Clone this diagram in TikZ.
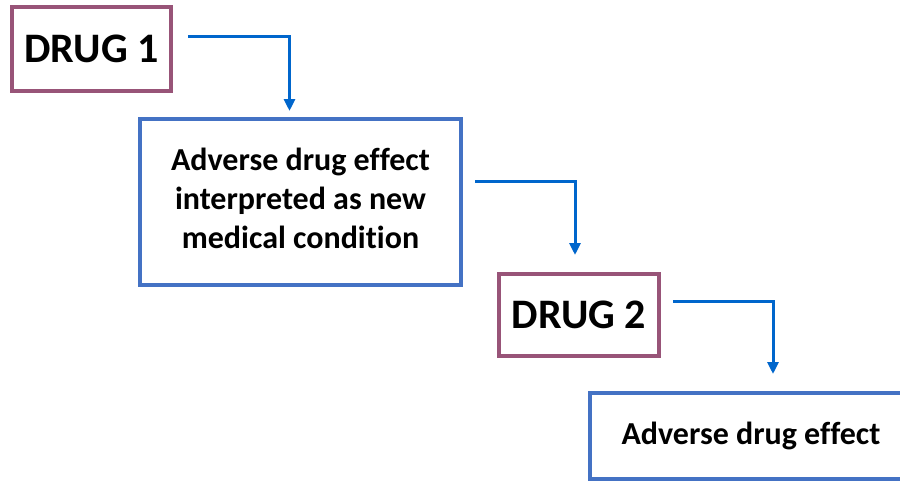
\documentclass[tikz,border=0pt]{standalone}
\usepackage{fontspec}
\setmainfont{Carlito}[Ligatures=NoCommon]
\usepackage{xcolor}
\usepackage{tikz}
\usetikzlibrary{arrows.meta, positioning}
\definecolor{drugline}{HTML}{985478}
\definecolor{effectline}{HTML}{4472C4}
\definecolor{flow}{HTML}{0066CC}

\begin{document}
\begin{tikzpicture}[x=1pt, y=-1pt,
      drugbox/.style={draw=drugline, line width=4pt, fill=white, inner sep=0pt,
        font=\bfseries\fontsize{42}{50}\selectfont},
      effectbox/.style={draw=effectline, line width=4pt, fill=white, inner sep=0pt,
        align=center, font=\bfseries\fontsize{32}{39}\selectfont},
      flowarrow/.style={draw=flow, line width=3pt, -{Triangle[length=12pt, width=11pt]}}]
    \clip (0,0) rectangle (900,482);
    \fill[white] (0,0) rectangle (900,482);
    % boxes
    \node[drugbox, minimum width=159pt, minimum height=84pt] (drug1) at (91.5,49) {DRUG 1};
    \node[effectbox, minimum width=321pt, minimum height=166pt, text depth=8pt] (effect1) at (300.5,202)
      {Adverse drug effect\\interpreted as new\\medical condition};
    \node[drugbox, minimum width=160pt, minimum height=82pt] (drug2) at (579,315) {DRUG 2};
    \node[effectbox, minimum width=322pt, minimum height=86pt] (effect2) at (751,436)
      {Adverse drug effect};
    % connectors
    \draw[flowarrow, shorten >=6pt] ([shift={(15,-13)}]drug1.east) -| ([xshift=-11pt]effect1.north);
    \draw[flowarrow, shorten >=17pt] ([shift={(12,-21)}]effect1.east) -| ([xshift=-4pt]drug2.north);
    \draw[flowarrow, shorten >=17pt] ([shift={(12,-14)}]drug2.east) -| ([xshift=22pt]effect2.north);
\end{tikzpicture}
\end{document}
